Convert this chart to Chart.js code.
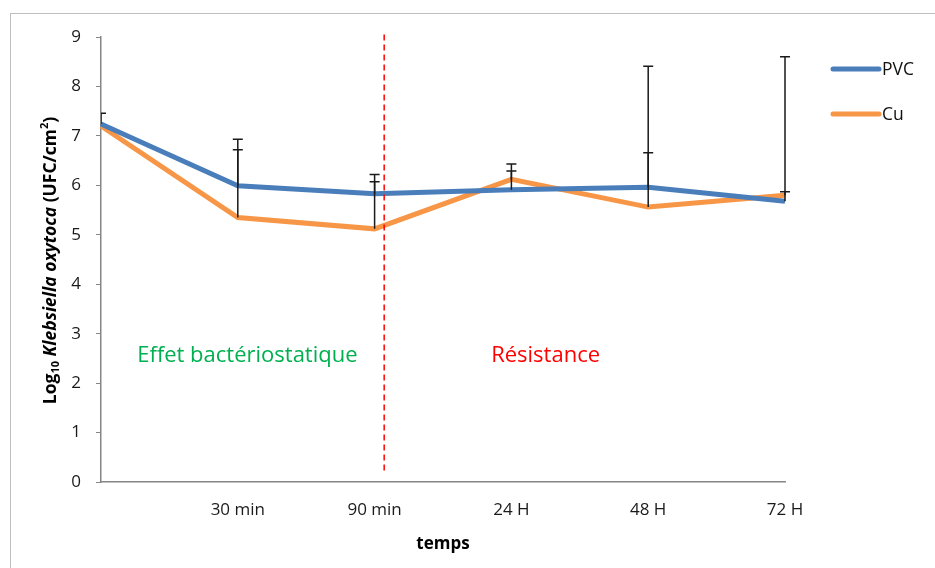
<!DOCTYPE html>
<html lang="fr">
<head>
<meta charset="UTF-8" />
<title>Klebsiella oxytoca - PVC / Cu</title>
<script src="https://cdn.jsdelivr.net/npm/chart.js"></script>
<style>
  html, body { margin: 0; padding: 0; background: #fff; overflow: hidden; }
  #frame {
    position: absolute; left: 10px; top: 13px; width: 1000px; height: 700px;
    border-top: 1px solid #bfbfbf; border-left: 1px solid #bfbfbf;
  }
  #wrap { position: absolute; left: 0; top: 0; width: 935px; height: 568px; }
</style>
</head>
<body>
<div id="frame"></div>
<div id="wrap"><canvas id="plot"></canvas></div>
<script>
const temps = ["", "30 min", "90 min", "24 H", "48 H", "72 H"];
const pvc = [7.24, 5.99, 5.83, 5.91, 5.96, 5.68];
const cu = [7.2, 5.35, 5.12, 6.12, 5.56, 5.8];
// plus-only error bars (Excel style)
const pvcErr = [0.22, 0.73, 0.24, 0.38, 0.7, 0.19];
const cuErr = [null, 1.58, 1.1, 0.31, 2.85, 2.8];
const phases = ["Effet bactériostatique", "Résistance"];
const phaseAt = [1.07, 3.25]; // category units
const phaseLevel = 2.55;
const phaseColors = ["#00B050", "#FF0000"];
const splitAt = 2.07; // dashed separator, category units

const FONT = "'Open Sans', sans-serif";

const errorBars = {
  id: "errorBars",
  afterDatasetsDraw(chart) {
    const { ctx, chartArea, scales } = chart;
    ctx.save();
    ctx.beginPath();
    ctx.rect(chartArea.left, chartArea.top - 20, chartArea.width + 10, chartArea.height + 20);
    ctx.clip();
    ctx.strokeStyle = "#1a1a1a";
    ctx.lineWidth = 1.5;
    chart.data.datasets.forEach((ds) => {
      ds.errPlus.forEach((e, i) => {
        if (e == null) return;
        const x = scales.x.getPixelForValue(i);
        const y0 = scales.y.getPixelForValue(ds.data[i]);
        const y1 = scales.y.getPixelForValue(ds.data[i] + e);
        ctx.beginPath();
        ctx.moveTo(x, y0);
        ctx.lineTo(x, y1);
        ctx.moveTo(x - 5, y1);
        ctx.lineTo(x + 5, y1);
        ctx.stroke();
      });
    });
    ctx.restore();
  },
};

const phaseMarks = {
  id: "phaseMarks",
  afterDatasetsDraw(chart) {
    const { ctx, scales } = chart;
    const x = scales.x.getPixelForValue(splitAt);
    ctx.save();
    ctx.strokeStyle = "#FF0000";
    ctx.lineWidth = 1.5;
    ctx.setLineDash([6, 4]);
    ctx.beginPath();
    ctx.moveTo(x, scales.y.getPixelForValue(9.05));
    ctx.lineTo(x, scales.y.getPixelForValue(0.2));
    ctx.stroke();
    ctx.setLineDash([]);
    ctx.font = "22px " + FONT;
    ctx.textAlign = "center";
    ctx.textBaseline = "middle";
    phases.forEach((t, i) => {
      ctx.fillStyle = phaseColors[i];
      ctx.fillText(t, scales.x.getPixelForValue(phaseAt[i]), scales.y.getPixelForValue(phaseLevel));
    });
    ctx.restore();
  },
};

const sideLegend = {
  id: "sideLegend",
  afterDraw(chart) {
    const { ctx, chartArea } = chart;
    const x0 = chartArea.right + 48;
    ctx.save();
    ctx.font = "17.5px " + FONT;
    ctx.textBaseline = "middle";
    ctx.lineCap = "round";
    chart.data.datasets.forEach((ds, i) => {
      const y = 69 + i * 45;
      ctx.strokeStyle = ds.borderColor;
      ctx.lineWidth = 5;
      ctx.beginPath();
      ctx.moveTo(x0, y);
      ctx.lineTo(x0 + 46, y);
      ctx.stroke();
      ctx.fillStyle = "#111";
      ctx.fillText(ds.label, x0 + 49, y + 1);
    });
    ctx.restore();
  },
};

// y title with subscript / italic / superscript parts
const yTitle = {
  id: "yTitle",
  afterDraw(chart) {
    const { ctx, chartArea } = chart;
    const parts = [
      { t: "Log", f: "bold 17.5px " },
      { t: "10", f: "bold 11px ", dy: 5 },
      { t: " ", f: "bold 17.5px " },
      { t: "Klebsiella oxytoca", f: "italic bold 17.5px " },
      { t: " (UFC/cm", f: "bold 17.5px " },
      { t: "2", f: "bold 11px ", dy: -6 },
      { t: ")", f: "bold 17.5px " },
    ];
    ctx.save();
    let total = 0;
    parts.forEach((p) => {
      ctx.font = p.f + FONT;
      p.w = ctx.measureText(p.t).width;
      total += p.w;
    });
    ctx.translate(51, (chartArea.top + chartArea.bottom) / 2 + 1);
    ctx.rotate(-Math.PI / 2);
    ctx.fillStyle = "#000";
    ctx.textBaseline = "middle";
    let x = -total / 2;
    parts.forEach((p) => {
      ctx.font = p.f + FONT;
      ctx.fillText(p.t, x, p.dy || 0);
      x += p.w;
    });
    ctx.restore();
  },
};

new Chart(document.getElementById("plot"), {
  type: "line",
  data: {
    labels: temps,
    datasets: [
      { label: "PVC", data: pvc, errPlus: pvcErr, borderColor: "#4A7EBB", borderWidth: 5, pointRadius: 0, tension: 0 },
      { label: "Cu", data: cu, errPlus: cuErr, borderColor: "#F79646", borderWidth: 5, pointRadius: 0, tension: 0 },
    ],
  },
  options: {
    responsive: true,
    maintainAspectRatio: false,
    animation: false,
    layout: { padding: { top: 37, right: 150, left: 0, bottom: 0 } },
    plugins: {
      legend: { display: false },
      tooltip: { enabled: false },
    },
    scales: {
      x: {
        offset: false,
        grid: { display: false, drawTicks: false },
        border: { display: true, color: "#868686", width: 1.5 },
        ticks: { font: { family: FONT, size: 17 }, color: "#1a1a1a", padding: 18, maxRotation: 0, autoSkip: false },
        title: { display: true, text: "temps", font: { family: FONT, size: 17, weight: "bold" }, color: "#000", padding: { top: 4, bottom: 14 } },
        afterFit: (s) => { s.height = 86; },
      },
      y: {
        min: 0,
        max: 9,
        ticks: { stepSize: 1, font: { family: FONT, size: 17 }, color: "#1a1a1a", padding: 15 },
        grid: { drawOnChartArea: false, tickLength: 5, color: "#868686" },
        border: { display: true, color: "#868686", width: 1.5 },
        afterFit: (s) => { s.width = 101; },
      },
    },
  },
  plugins: [errorBars, phaseMarks, sideLegend, yTitle],
});
</script>
</body>
</html>
